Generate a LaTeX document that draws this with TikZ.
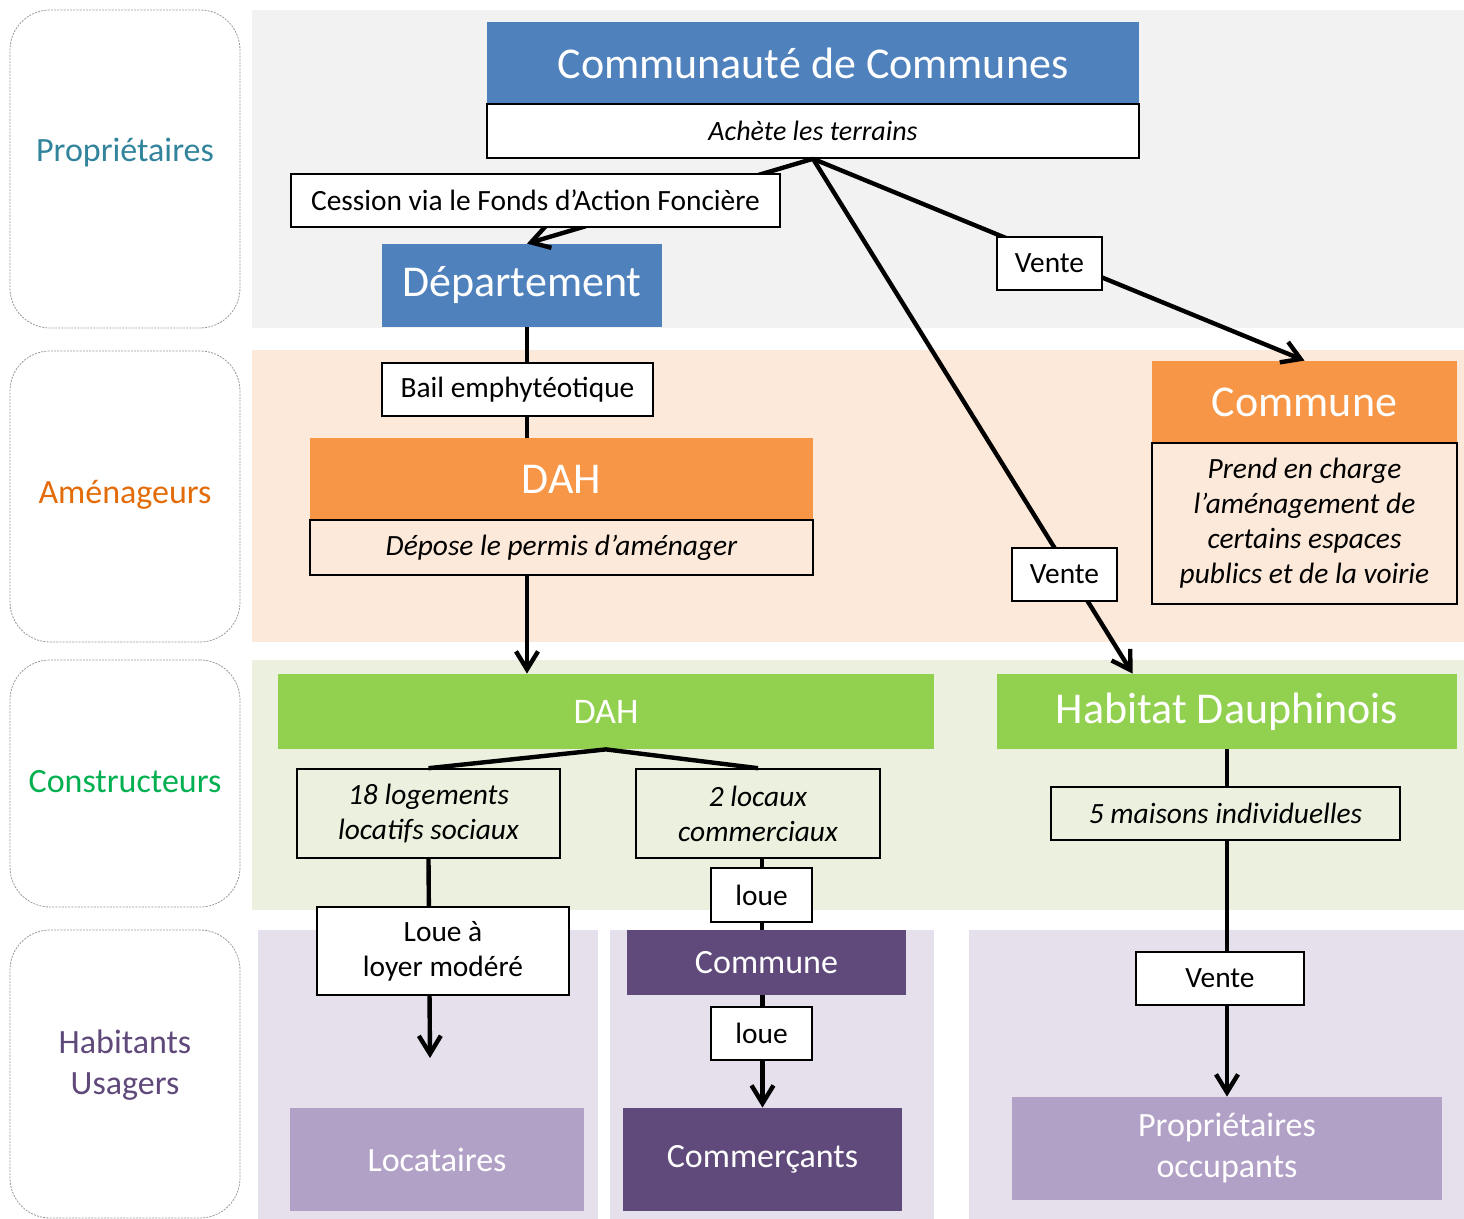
\documentclass[tikz,border=0pt]{standalone}
\usepackage{fontspec}
\setmainfont{Carlito}
\usetikzlibrary{arrows.meta,calc}

\definecolor{fondgris}{HTML}{F2F2F2}
\definecolor{fondorange}{HTML}{FDE9D9}
\definecolor{fondvert}{HTML}{EBF1DE}
\definecolor{fondviolet}{HTML}{E5E0EC}
\definecolor{bleu}{HTML}{4F81BD}
\definecolor{orange}{HTML}{F79646}
\definecolor{vert}{HTML}{92D050}
\definecolor{violetfonce}{HTML}{604A7B}
\definecolor{violetclair}{HTML}{B2A1C7}
\definecolor{txtprop}{HTML}{31849B}
\definecolor{txtamen}{HTML}{E36C09}
\definecolor{txtconst}{HTML}{00B050}
\definecolor{txthab}{HTML}{5F497A}

\newcommand{\grand}{\fontsize{22}{26}\selectfont}
\newcommand{\moyen}{\fontsize{17}{20.5}\selectfont}
\newcommand{\petit}{\fontsize{14.7}{17.5}\selectfont}

\tikzset{
  acteur/.style={draw=gray!80, line width=0.4pt, dash pattern=on 1pt off 0.6pt,
    rounded corners=20pt, minimum width=115pt, fill=white},
  texterole/.style={font=\moyen, align=center},
  titre/.style={inner sep=0pt, text=white, font=\grand, align=center},
  soustitre/.style={inner sep=0pt, text=white, font=\moyen, align=center},
  etiq/.style={draw=black, line width=0.8pt, fill=white, inner sep=0pt,
    font=\petit, align=center},
  cadre/.style={draw=black, line width=0.8pt, inner sep=0pt,
    font=\petit\itshape, align=center},
  trait/.style={line width=2.2pt},
  fleche/.style={line width=2.2pt, -{Straight Barb[length=9pt,width=11pt]}}
}

\begin{document}
\begin{tikzpicture}[x=0.5pt,y=-0.5pt]
\useasboundingbox (0,0) rectangle (1464,1219);

% bandes de fond
\fill[fondgris] (252,10) rectangle (1464,328);
\fill[fondorange] (252,350) rectangle (1464,642);
\fill[fondvert] (252,660) rectangle (1464,910);
\foreach \xa/\xb in {258/598,610/934,969/1464} \fill[fondviolet] (\xa,930) rectangle (\xb,1219);

% colonne des roles
\foreach \yc/\h [count=\i] in {169/159,496.5/145.5,783.5/123.5,1074/144}
  \node[acteur, minimum height=\h pt] (role\i) at (125,\yc) {};
\node[texterole, text=txtprop] (tprop) at (125,153) {Propriétaires};
\node[texterole, text=txtamen] (tamen) at (125,495) {Aménageurs};
\node[texterole, text=txtconst] (tconst) at (125,782) {Constructeurs};
\node[texterole, text=txthab] (thab) at (125,1065) {Habitants\\Usagers};

% acteurs
\node[titre, fill=bleu, minimum width=326pt, minimum height=41pt] (cc) at (813,63) {Communauté de Communes};
\node[cadre, fill=white, font=\fontsize{14}{17.5}\selectfont\itshape, minimum width=326pt, minimum height=27pt] (achete) at (813,131) {Achète les terrains};
\node[titre, fill=bleu, minimum width=140pt, minimum height=41.5pt] (dept) at (522,285.5) {Département};
\node[titre, fill=orange, minimum width=152.5pt, minimum height=41pt] (commune) at (1304.5,402) {Commune};
\node[cadre, minimum width=152.5pt, minimum height=80.5pt] (comdesc) at (1304.5,523.5)
  {Prend en charge\\l’aménagement de\\certains espaces\\publics et de la voirie};
\node[titre, fill=orange, minimum width=251.5pt, minimum height=41pt] (dahA) at (561.5,479) {DAH};
\node[cadre, minimum width=251.5pt, minimum height=27.5pt] (depose) at (561.5,547.5) {Dépose le permis d’aménager};
\node[titre, fill=vert, font=\fontsize{18}{22}\selectfont, minimum width=328pt, minimum height=37.5pt] (dahC) at (606,711.5) {DAH};
\node[titre, fill=vert, minimum width=230pt, minimum height=37.5pt] (hd) at (1227,711.5) {Habitat Dauphinois};
\node[cadre, minimum width=131.5pt, minimum height=44.5pt] (logts) at (428.5,813.5) {18 logements\\locatifs sociaux};
\node[cadre, minimum width=122pt, minimum height=44.5pt] (locaux) at (758,813.5) {2 locaux\\commerciaux};
\node[soustitre, fill=violetfonce, minimum width=139.5pt, minimum height=32.5pt] (communeP) at (766.5,962.5) {Commune};
\node[soustitre, fill=violetclair, minimum width=147pt, minimum height=51.5pt] (locataires) at (437,1159.5) {Locataires};
\node[soustitre, fill=violetfonce, minimum width=139.5pt, minimum height=51.5pt] (commercants) at (762.5,1159.5) {Commerçants};
\node[soustitre, fill=violetclair, minimum width=215pt, minimum height=51.5pt] (propocc) at (1227,1148.5) {Propriétaires\\occupants};
\coordinate (locfin) at (430,1058);

% liens
\draw[fleche] (achete.south) -- ($(dept.north)+(5,0)$);
\draw[fleche] (achete.south) -- (commune.north);
\draw[fleche] (achete.south) -- ($(hd.north west)+(136,0)$);
\draw[trait] ($(dept.south)+(5,0)$) -- ($(dept.south |- dahA.north)+(5,0)$);
\draw[fleche] ($(dept.south |- depose.south)+(5,0)$) -- ($(dept.south |- dahC.north)+(5,0)$);
\draw[trait] (logts.north) -- (dahC.south) -- (locaux.north);
\draw[fleche] (logts.south) -- (locfin);
\draw[trait] ($(locaux.south)+(4,0)$) -- ($(locaux.south |- communeP.north)+(4,0)$);
\draw[fleche] (commercants.north |- communeP.south) -- (commercants.north);
\draw[fleche] (hd.south) -- (propocc.north);

% etiquettes des liens
\node[etiq, minimum width=244.5pt, minimum height=26.5pt] (cession) at (535.5,200.5) {Cession via le Fonds d’Action Foncière};
\node[etiq, minimum width=52.5pt, minimum height=26.5pt] (vente1) at (1049.5,263.5) {Vente};
\node[etiq, minimum width=135.5pt, minimum height=26.5pt] (bail) at (517.5,389.5) {Bail emphytéotique};
\node[etiq, minimum width=52.5pt, minimum height=26.5pt] (vente2) at (1064.5,574.5) {Vente};
\node[cadre, fill=fondvert, minimum width=174.5pt, minimum height=26.5pt] (maisons) at (1225.5,813.5) {5 maisons individuelles};
\node[etiq, minimum width=50.5pt, minimum height=27pt] (loue1) at (761.5,895) {loue};
\node[etiq, minimum width=126pt, minimum height=44pt] (loyer) at (443,951) {Loue à\\loyer modéré};
\node[etiq, minimum width=50.5pt, minimum height=26.5pt] (loue2) at (761.5,1033.5) {loue};
\node[etiq, minimum width=84pt, minimum height=26.5pt] (vente3) at (1220,978.5) {Vente};
\end{tikzpicture}
\end{document}
